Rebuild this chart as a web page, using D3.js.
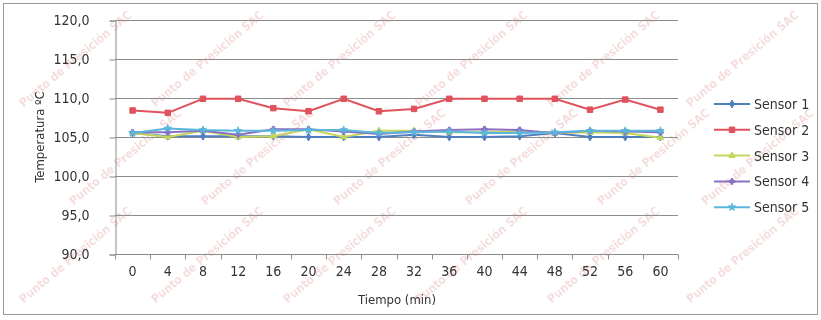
<!DOCTYPE html>
<html>
<head>
<meta charset="utf-8">
<script src="https://cdn.jsdelivr.net/npm/d3@7"></script>
<style>
  html, body { margin: 0; padding: 0; background: #ffffff; }
  svg { display: block; }
  text { font-family: "DejaVu Sans Condensed", "DejaVu Sans", sans-serif; fill: #333; }
</style>
</head>
<body>
<svg id="chart" width="821" height="320"></svg>
<script>
// Time points (minutes)
const minutes = [0, 4, 8, 12, 16, 20, 24, 28, 32, 36, 40, 44, 48, 52, 56, 60];

// Temperature readings (°C) per sensor
const sensor1 = [105.5, 105.1, 105.1, 105.1, 105.1, 105.0, 105.0, 105.0, 105.3, 105.0, 105.0, 105.1, 105.5, 105.0, 105.0, 105.0];
const sensor2 = [108.4, 108.1, 109.9, 109.9, 108.7, 108.3, 109.9, 108.3, 108.6, 109.9, 109.9, 109.9, 109.9, 108.5, 109.8, 108.5];
const sensor3 = [105.5, 105.0, 105.8, 105.0, 105.1, 106.0, 105.0, 105.8, 105.8, 105.6, 105.6, 105.7, 105.5, 105.6, 105.5, 104.9];
const sensor4 = [105.6, 105.6, 105.8, 105.3, 106.0, 106.0, 105.7, 105.4, 105.7, 105.9, 106.0, 105.9, 105.5, 105.8, 105.7, 105.6];
const sensor5 = [105.5, 106.1, 105.9, 105.8, 105.8, 105.9, 105.9, 105.5, 105.6, 105.7, 105.5, 105.5, 105.6, 105.8, 105.8, 105.8];

const seriesNames = ["Sensor 1", "Sensor 2", "Sensor 3", "Sensor 4", "Sensor 5"];
const yTicks = [90, 95, 100, 105, 110, 115, 120];

const series = [
  { name: seriesNames[0], values: sensor1, color: "#4f7fc0", symbol: d3.symbolDiamond, size: 18 },
  { name: seriesNames[1], values: sensor2, color: "#e0525c", symbol: d3.symbolSquare, size: 30 },
  { name: seriesNames[2], values: sensor3, color: "#c4d65c", symbol: d3.symbolTriangle, size: 18 },
  { name: seriesNames[3], values: sensor4, color: "#8a70c2", symbol: d3.symbolCross, size: 18 },
  { name: seriesNames[4], values: sensor5, color: "#5bb6dc", symbol: d3.symbolStar, size: 18 }
];

const svg = d3.select("#chart");
const W = 821, H = 320;
const plot = { left: 115, right: 678, top: 20, bottom: 254 };

// Chart frame
svg.append("rect")
  .attr("x", 3.5).attr("y", 3.5)
  .attr("width", W - 7).attr("height", H - 9)
  .attr("fill", "#fff").attr("stroke", "#9a9a9a").attr("stroke-width", 1);

// Faint diagonal watermark, kept inside the frame
const wm = svg.append("g").attr("opacity", 0.2);
const wmCols = [78, 210, 342, 474, 606, 745];
const wmRows = [62, 160, 258];
wmRows.forEach((ry, r) => {
  wmCols.forEach((cx, c) => {
    const xx = Math.min(760, cx + (r % 2) * 50);
    wm.append("text")
      .attr("transform", `translate(${xx},${ry}) rotate(-40)`)
      .attr("text-anchor", "middle")
      .attr("font-size", 12).attr("font-weight", "bold")
      .style("fill", "#d05858")
      .text("Punto de Presición SAC");
  });
});

const x = d3.scaleBand().domain(minutes).range([plot.left, plot.right]);
const y = d3.scaleLinear().domain([90, 120]).range([plot.bottom, plot.top]);

// Horizontal gridlines
svg.append("g")
  .selectAll("line")
  .data(yTicks.slice(1))
  .join("line")
  .attr("x1", plot.left).attr("x2", plot.right)
  .attr("y1", d => Math.round(y(d)) + 0.5).attr("y2", d => Math.round(y(d)) + 0.5)
  .attr("stroke", "#8c8c8c").attr("stroke-width", 1);

// Y axis
const yAxis = svg.append("g")
  .attr("transform", `translate(${plot.left + 0.5},0.5)`)
  .call(d3.axisLeft(y).tickValues(yTicks).tickSizeOuter(0).tickSize(6).tickPadding(20)
    .tickFormat(d => d3.format(".1f")(d).replace(".", ",")));
yAxis.select(".domain").attr("stroke", "#8c8c8c");
yAxis.selectAll(".tick line").attr("stroke", "#8c8c8c");
yAxis.selectAll(".tick text").attr("font-size", 14).style("fill", "#333");

// X axis with ticks between categories
const xAxisG = svg.append("g").attr("transform", `translate(0,${plot.bottom + 0.5})`);
xAxisG.append("line")
  .attr("x1", plot.left).attr("x2", plot.right)
  .attr("stroke", "#8c8c8c");
const bounds = minutes.map(m => x(m)).concat([plot.right]);
xAxisG.selectAll("line.tk")
  .data(bounds)
  .join("line").attr("class", "tk")
  .attr("x1", d => Math.round(d) + 0.5).attr("x2", d => Math.round(d) + 0.5)
  .attr("y1", 0).attr("y2", 5)
  .attr("stroke", "#8c8c8c");
xAxisG.selectAll("text")
  .data(minutes)
  .join("text")
  .attr("x", d => x(d) + x.bandwidth() / 2)
  .attr("y", 21)
  .attr("text-anchor", "middle")
  .attr("font-size", 14)
  .text(d => d);

// Axis titles
svg.append("text")
  .attr("x", 397)
  .attr("y", 304)
  .attr("text-anchor", "middle")
  .attr("font-size", 13)
  .text("Tiempo (min)");
svg.append("text")
  .attr("transform", `translate(44,${(plot.top + plot.bottom) / 2}) rotate(-90)`)
  .attr("text-anchor", "middle")
  .attr("font-size", 13)
  .text("Temperatura ºC");

// Lines and markers
const line = d3.line()
  .x((d, i) => x(minutes[i]) + x.bandwidth() / 2)
  .y(d => y(d));

series.forEach(s => {
  svg.append("path")
    .datum(s.values)
    .attr("d", line)
    .attr("fill", "none")
    .attr("stroke", s.color)
    .attr("stroke-width", 2);
  svg.append("g")
    .selectAll("path")
    .data(s.values)
    .join("path")
    .attr("transform", (d, i) => `translate(${x(minutes[i]) + x.bandwidth() / 2},${y(d)})`)
    .attr("d", d3.symbol().type(s.symbol).size(s.size))
    .attr("fill", s.color)
    .attr("stroke", s.color)
    .attr("stroke-width", 1);
});

// Legend
const legend = svg.append("g");
series.forEach((s, i) => {
  const ly = 104 + i * 25.8;
  const g = legend.append("g").attr("transform", `translate(0,${ly})`);
  g.append("line").attr("x1", 714).attr("x2", 750).attr("y1", 0).attr("y2", 0)
    .attr("stroke", s.color).attr("stroke-width", 2);
  g.append("path").attr("transform", "translate(732,0)")
    .attr("d", d3.symbol().type(s.symbol).size(s.size))
    .attr("fill", s.color).attr("stroke", s.color);
  g.append("text").attr("x", 754).attr("y", 5)
    .attr("font-size", 14)
    .text(s.name);
});
</script>
</body>
</html>
